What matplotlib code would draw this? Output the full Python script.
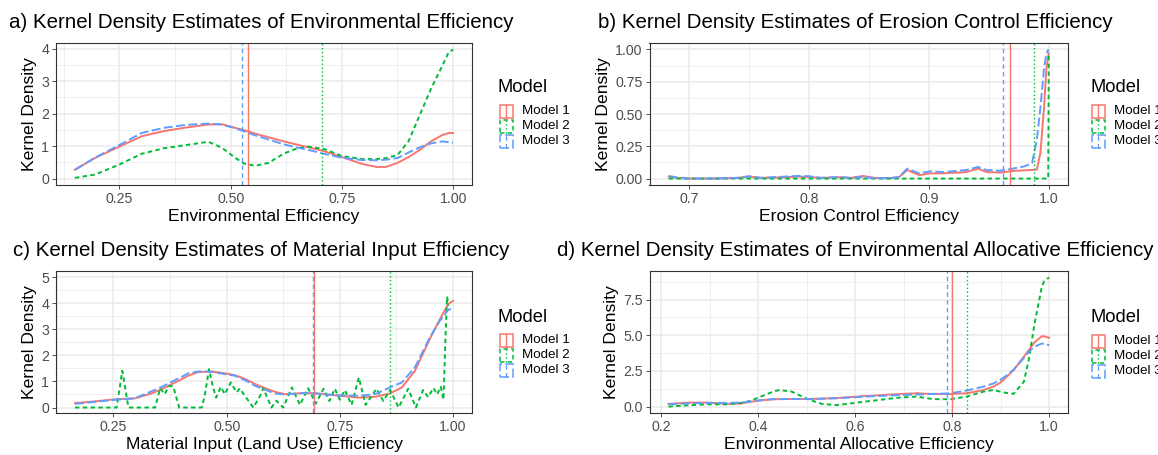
import matplotlib
matplotlib.use("Agg")
import matplotlib.pyplot as plt
from matplotlib.patches import Rectangle
from matplotlib.lines import Line2D
from matplotlib.ticker import AutoMinorLocator

W, H = 1158, 455
plt.rcParams.update({"font.family": ["Liberation Sans", "DejaVu Sans"],
                     "lines.scale_dashes": False})

MODELS = ["Model 1", "Model 2", "Model 3"]
COLORS = ["#F8766D", "#00BA38", "#619CFF"]
DENS_LS = ["-", (0, (3.2, 2.4)), (0, (6.5, 2.4))]
VLINE_LS = ["-", (0, (1, 1.8)), (0, (3.2, 2.4))]

# ---------------------------------------------------------------- data
# (a) environmental efficiency
A_X = [0.15, 0.195, 0.25, 0.30, 0.35, 0.40, 0.45, 0.48, 0.51, 0.53, 0.555,
       0.585, 0.62, 0.65, 0.675, 0.71, 0.75, 0.795, 0.83, 0.85, 0.875, 0.90,
       0.925, 0.95, 0.975, 0.99, 1.0]
A_M1 = [0.27, 0.63, 0.98, 1.30, 1.46, 1.57, 1.66, 1.67, 1.56, 1.49, 1.38,
        1.27, 1.14, 1.04, 0.96, 0.84, 0.66, 0.45, 0.35, 0.36, 0.48, 0.66,
        0.88, 1.14, 1.33, 1.40, 1.40]
A_M2 = [0.02, 0.12, 0.43, 0.76, 0.93, 1.03, 1.13, 0.95, 0.64, 0.46, 0.39,
        0.48, 0.77, 0.93, 0.98, 0.91, 0.69, 0.60, 0.60, 0.63, 0.72, 1.15,
        1.95, 2.75, 3.45, 3.88, 3.97]
A_M3 = [0.27, 0.64, 1.03, 1.40, 1.56, 1.65, 1.69, 1.66, 1.55, 1.45, 1.33,
        1.20, 1.05, 0.95, 0.88, 0.76, 0.64, 0.57, 0.56, 0.58, 0.63, 0.80,
        0.96, 1.08, 1.14, 1.12, 1.10]
A_MEANS = [0.538, 0.706, 0.526]

# (b) erosion control efficiency
B_X = [0.683, 0.69, 0.70, 0.72, 0.74, 0.75, 0.76, 0.78, 0.79, 0.80, 0.81,
       0.825, 0.835, 0.845, 0.855, 0.867, 0.875, 0.882, 0.892, 0.901, 0.912,
       0.923, 0.931, 0.941, 0.948, 0.959, 0.970, 0.980, 0.986, 0.990, 0.993,
       0.996, 0.998, 0.9995, 1.0]
B_M1 = [0.015, 0.005, 0.0, 0.0, 0.005, 0.015, 0.005, 0.01, 0.015, 0.012,
        0.005, 0.01, 0.005, 0.02, 0.005, 0.003, 0.01, 0.066, 0.026, 0.04,
        0.04, 0.046, 0.05, 0.077, 0.05, 0.046, 0.059, 0.064, 0.066, 0.07,
        0.2, 0.55, 0.85, 0.95, 0.97]
B_M2 = [0.0] * 34 + [0.97]
B_M3 = [0.02, 0.008, 0.0, 0.0, 0.005, 0.018, 0.005, 0.015, 0.02, 0.018,
        0.005, 0.012, 0.005, 0.012, 0.003, 0.003, 0.012, 0.077, 0.04, 0.056,
        0.05, 0.059, 0.066, 0.09, 0.066, 0.06, 0.077, 0.095, 0.12, 0.30,
        0.55, 0.85, 0.97, 0.995, 1.0]
B_MEANS = [0.968, 0.988, 0.962]

# (c) material input (land use) efficiency
C_X = [0.165, 0.20, 0.25, 0.297, 0.334, 0.36, 0.379, 0.40, 0.415, 0.437,
       0.467, 0.496, 0.518, 0.54, 0.563, 0.585, 0.607, 0.629, 0.666, 0.695,
       0.739, 0.791, 0.828, 0.861, 0.887, 0.916, 0.949, 0.97, 0.99, 1.0]
C_M1 = [0.17, 0.22, 0.31, 0.35, 0.54, 0.73, 0.90, 1.08, 1.22, 1.36, 1.38,
        1.31, 1.24, 1.10, 0.90, 0.74, 0.60, 0.51, 0.55, 0.55, 0.47, 0.38,
        0.41, 0.54, 0.77, 1.41, 2.63, 3.35, 3.98, 4.08]
C_M3 = [0.14, 0.20, 0.29, 0.35, 0.62, 0.82, 0.99, 1.17, 1.31, 1.38, 1.37,
        1.28, 1.22, 1.05, 0.83, 0.68, 0.54, 0.50, 0.55, 0.54, 0.47, 0.45,
        0.51, 0.77, 0.96, 1.54, 2.69, 3.30, 3.75, 3.78]
C_X2 = [0.165, 0.257, 0.2695, 0.283, 0.342, 0.353, 0.363, 0.373, 0.382,
        0.395, 0.445, 0.452, 0.461, 0.47, 0.477, 0.487, 0.496, 0.509, 0.522,
        0.529, 0.540, 0.559, 0.574, 0.581, 0.599, 0.610, 0.625, 0.644, 0.662,
        0.680, 0.697, 0.714, 0.727, 0.739, 0.750, 0.761, 0.776, 0.792, 0.807,
        0.831, 0.846, 0.861, 0.880, 0.901, 0.918, 0.934, 0.945, 0.957, 0.965,
        0.973, 0.979, 0.983, 0.987, 0.99]
C_M2 = [0.0, 0.0, 1.41, 0.0, 0.0, 0.74, 0.51, 0.83, 0.81, 0.0, 0.0, 0.5,
        1.47, 0.77, 0.38, 0.79, 0.51, 0.96, 0.58, 0.73, 0.45, 0.0, 0.45, 0.74,
        0.0, 0.26, 0.0, 0.77, 0.1, 0.74, 0.15, 0.72, 0.25, 0.72, 0.3, 0.67,
        0.1, 1.15, 0.1, 0.72, 0.25, 0.67, 0.0, 0.72, 0.0, 0.67, 0.4, 0.75,
        0.5, 0.8, 0.3, 2.5, 4.25, 3.9]
C_MEANS = [0.693, 0.8615, 0.690]

# (d) environmental allocative efficiency
D_X = [0.215, 0.26, 0.295, 0.337, 0.364, 0.378, 0.399, 0.413, 0.434, 0.444,
       0.469, 0.503, 0.531, 0.562, 0.621, 0.691, 0.726, 0.760, 0.795, 0.830,
       0.865, 0.885, 0.899, 0.913, 0.927, 0.948, 0.958, 0.97, 0.985, 0.99,
       1.0]
D_M1 = [0.19, 0.28, 0.28, 0.19, 0.21, 0.30, 0.40, 0.46, 0.51, 0.52, 0.53,
        0.53, 0.56, 0.60, 0.74, 0.88, 0.93, 0.88, 0.88, 0.93, 1.16, 1.40,
        1.67, 2.10, 2.56, 3.50, 3.95, 4.50, 4.93, 4.92, 4.82]
D_M2 = [0.0, 0.10, 0.16, 0.16, 0.25, 0.35, 0.60, 0.81, 1.08, 1.16, 1.05,
        0.51, 0.19, 0.10, 0.35, 0.63, 0.70, 0.53, 0.51, 0.70, 1.05, 1.16,
        1.05, 0.95, 0.90, 1.74, 3.26, 5.80, 8.40, 8.80, 9.05]
D_M3 = [0.16, 0.23, 0.26, 0.26, 0.28, 0.33, 0.42, 0.48, 0.53, 0.53, 0.53,
        0.53, 0.55, 0.58, 0.70, 0.81, 0.84, 0.88, 0.93, 1.12, 1.40, 1.62,
        1.86, 2.20, 2.60, 3.40, 3.84, 4.20, 4.42, 4.40, 4.30]
D_MEANS = [0.80, 0.83, 0.79]

# ---------------------------------------------------------------- figure
fig = plt.figure(figsize=(W / 100, H / 100), dpi=100)


def fx(px): return px / W
def fy(py): return 1 - py / H


def draw_panel(box, series, means, xlim, ylim, xticks, xlabels, yticks,
               ylabels, title, title_xy, xlabel, legend_xy):
    l, t, r, b = box
    ax = fig.add_axes([fx(l), fy(b), fx(r) - fx(l), fy(t) - fy(b)])
    ax.set_xlim(*xlim)
    ax.set_ylim(*ylim)
    ax.set_xticks(xticks, xlabels)
    ax.set_yticks(yticks, ylabels)
    ax.xaxis.set_minor_locator(AutoMinorLocator(2))
    ax.yaxis.set_minor_locator(AutoMinorLocator(2))
    ax.grid(True, which="major", color="#EBEBEB", lw=1.1)
    ax.grid(True, which="minor", color="#EBEBEB", lw=0.55)
    ax.set_axisbelow(True)
    for s in ax.spines.values():
        s.set_color("#333333")
        s.set_linewidth(0.8)
    ax.tick_params(which="major", length=2.75, width=0.6, color="#333333",
                   labelcolor="#4D4D4D", labelsize=10.2, pad=2.2)
    ax.tick_params(which="minor", length=0)
    for (xs, ys), c, ls in zip(series, COLORS, DENS_LS):
        ax.plot(xs, ys, color=c, ls=ls, lw=1.4)
    for m, c, ls in zip(means, COLORS, VLINE_LS):
        ax.axvline(m, color=c, ls=ls, lw=1.0)
    ax.set_xlabel(xlabel, fontsize=12.6, labelpad=2)
    ax.set_ylabel("Kernel Density", fontsize=12.6, labelpad=3)
    fig.text(fx(title_xy[0]), fy(title_xy[1]), title, fontsize=14.8,
             ha="left", va="center")
    # legend
    lx, ly = legend_xy
    fig.text(fx(lx), fy(ly), "Model", fontsize=13.2, ha="left", va="center")
    for i, (name, c) in enumerate(zip(MODELS, COLORS)):
        cy = ly + 23 + 15 * i
        fig.add_artist(Rectangle((fx(lx + 2), fy(cy + 6.5)), 12.5 / W,
                                 13 / H, transform=fig.transFigure,
                                 fill=False, edgecolor=c, lw=1.1,
                                 ls=DENS_LS[i]))
        fig.add_artist(Line2D([fx(lx + 8.25)] * 2, [fy(cy + 6.5), fy(cy - 6.5)],
                              transform=fig.transFigure, color=c, lw=1.0,
                              ls=VLINE_LS[i]))
        fig.text(fx(lx + 24), fy(cy), name, fontsize=9.6, ha="left",
                 va="center")
    return ax


draw_panel((56, 43, 472, 185),
           [(A_X, A_M1), (A_X, A_M2), (A_X, A_M3)], A_MEANS,
           (0.1075, 1.0425), (-0.2, 4.17),
           [0.25, 0.5, 0.75, 1.0], ["0.25", "0.50", "0.75", "1.00"],
           [0, 1, 2, 3, 4], ["0", "1", "2", "3", "4"],
           "a) Kernel Density Estimates of Environmental Efficiency", (9, 23),
           "Environmental Efficiency", (498, 88))

draw_panel((649.5, 43, 1068, 185),
           [(B_X, B_M1), (B_X, B_M2), (B_X, B_M3)], B_MEANS,
           (0.667, 1.016), (-0.05, 1.05),
           [0.7, 0.8, 0.9, 1.0], ["0.7", "0.8", "0.9", "1.0"],
           [0, 0.25, 0.5, 0.75, 1.0], ["0.00", "0.25", "0.50", "0.75", "1.00"],
           "b) Kernel Density Estimates of Erosion Control Efficiency",
           (598, 23), "Erosion Control Efficiency", (1090, 88))

draw_panel((56, 271, 472, 413),
           [(C_X, C_M1), (C_X2, C_M2), (C_X, C_M3)], C_MEANS,
           (0.123, 1.042), (-0.21, 5.23),
           [0.25, 0.5, 0.75, 1.0], ["0.25", "0.50", "0.75", "1.00"],
           [0, 1, 2, 3, 4, 5], ["0", "1", "2", "3", "4", "5"],
           "c) Kernel Density Estimates of Material Input Efficiency",
           (13, 251), "Material Input (Land Use) Efficiency", (498, 317))

draw_panel((649.5, 271, 1068, 413),
           [(D_X, D_M1), (D_X, D_M2), (D_X, D_M3)], D_MEANS,
           (0.176, 1.039), (-0.45, 9.5),
           [0.2, 0.4, 0.6, 0.8, 1.0], ["0.2", "0.4", "0.6", "0.8", "1.0"],
           [0, 2.5, 5, 7.5], ["0.0", "2.5", "5.0", "7.5"],
           "d) Kernel Density Estimates of Environmental Allocative Efficiency",
           (557, 251), "Environmental Allocative Efficiency", (1090, 318))

fig.savefig("out.png", dpi=100)
